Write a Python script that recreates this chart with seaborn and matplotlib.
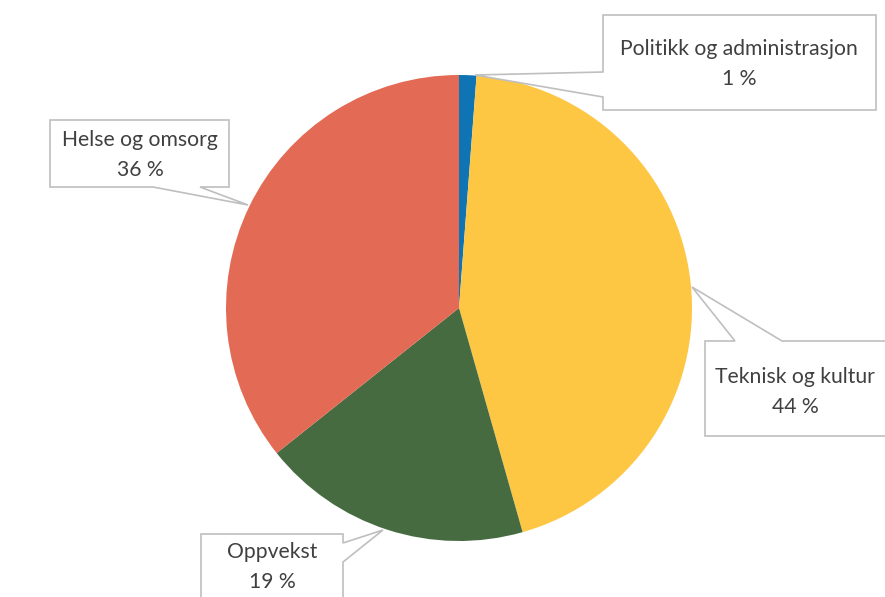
#pie chart with callout boxes
import numpy as np
import matplotlib
matplotlib.use('Agg')
import matplotlib.pyplot as plt
from matplotlib.patches import Polygon
import seaborn as sns

categories = ['Politikk og administrasjon', 'Teknisk og kultur', 'Oppvekst', 'Helse og omsorg']
values = [1.2, 44.4, 18.7, 35.7]
pct_labels = ['1 %', '44 %', '19 %', '36 %']
colors = ['#0F74B3', '#FEC743', '#466B40', '#E36A54']

sns.set_theme(style='white')
plt.rcParams['font.family'] = ['Lato', 'DejaVu Sans']

W, H = 885, 597
fig = plt.figure(figsize=(W / 100, H / 100), dpi=100)
ax = fig.add_axes([0, 0, 1, 1])

ax.pie(values, colors=colors, startangle=90, counterclock=False,
       center=(459, H - 308), radius=233, wedgeprops={'linewidth': 0})
ax.set_xlim(0, W)
ax.set_ylim(0, H)
ax.set_aspect('equal')
ax.axis('off')

#callout shapes in pixel coords (y down), with the tail built in
callouts = {
    'Politikk og administrasjon': ([(603, 15), (876, 15), (876, 110), (603, 110), (603, 97), (475, 75), (603, 72)], (739, 64)),
    'Teknisk og kultur': ([(705, 341), (735, 341), (692, 287), (782, 341), (892, 341), (892, 436), (705, 436)], (795, 392)),
    'Oppvekst': ([(201, 534), (343, 534), (343, 543), (383, 530), (343, 562), (343, 605), (201, 605)], (272, 567)),
    'Helse og omsorg': ([(50, 120), (229, 120), (229, 187), (200, 187), (248, 205), (153, 187), (50, 187)], (140, 155)),
}

for cat, pct in zip(categories, pct_labels):
    pts, (tx, ty) = callouts[cat]
    pts = [(x, H - y) for x, y in pts]
    ax.add_patch(Polygon(pts, closed=True, facecolor='white', edgecolor='#BFBFBF',
                         linewidth=1.2, zorder=5, clip_on=False))
    ax.text(tx, H - ty, cat + '\n' + pct, ha='center', va='center', fontsize=15.2,
            color='#404040', linespacing=1.6, zorder=6)

fig.savefig('out.png', dpi=100)
